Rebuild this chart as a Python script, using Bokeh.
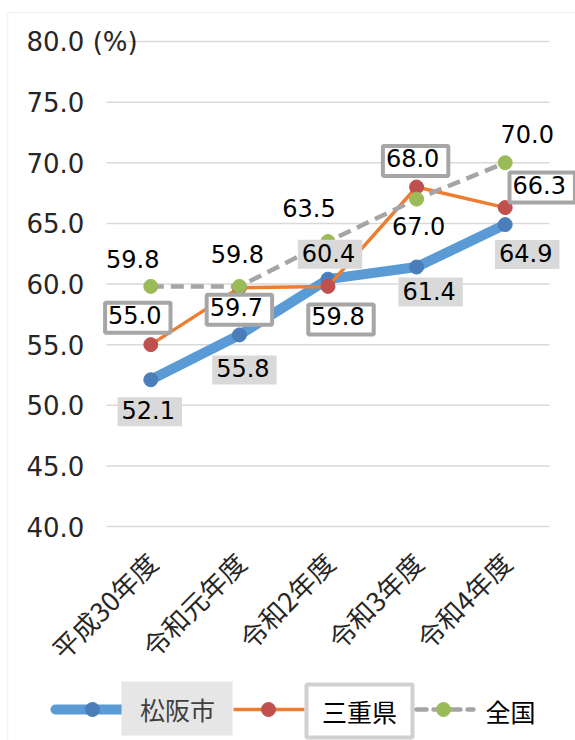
from math import pi
from bokeh.plotting import figure
from bokeh.models import Range1d, Label, BoxAnnotation
from bokeh.core.properties import value
from bokeh.embed import file_html
from bokeh.resources import INLINE

# ---- data ----
categories = ["平成30年度", "令和元年度", "令和2年度", "令和3年度", "令和4年度"]
matsusaka = [52.1, 55.8, 60.4, 61.4, 64.9]
mie = [55.0, 59.7, 59.8, 68.0, 66.3]
zenkoku = [59.8, 59.8, 63.5, 67.0, 70.0]
y_ticks = [40, 45, 50, 55, 60, 65, 70, 75, 80]
series_names = ["松阪市", "三重県", "全国"]

# ---- layout / styles ----
W, H = 575, 740
FRAME_L, FRAME_R, FRAME_T, FRAME_B = 106, 549, 41, 526   # plot area in px
FONT_CJK = "Noto Sans CJK JP"
FONT_NUM = "DejaVu Sans"
TXT = "#262626"
BLUE_L, BLUE_M = "#5b9bd5", "#4a7ebb"
ORG_L, ORG_M = "#ed7d31", "#c0504d"
GRY_L, GRN_M = "#a5a5a5", "#9bbb59"
GRID = "#d9d9d9"
# label pixel offsets (dx right, dy down)
off_blue = [(-1, 32), (5, 35), (2, -25), (14, 25), (22, 30)]
off_org = [(-13, -27), (0, 22), (13, 33), (-1, -26), (37, -20)]
off_gry = [(-18, -27), (-2, -32), (-19, -34), (2, 27), (22, -29)]

n = len(categories)
xs = list(range(n))
ymin, ymax = y_ticks[0], y_ticks[-1]
px_x = (FRAME_R - FRAME_L) / n
px_y = (FRAME_B - FRAME_T) / (ymax - ymin)
x0 = -0.5 - FRAME_L / px_x
x1 = n - 0.5 + (W - FRAME_R) / px_x
y0 = ymin - (H - FRAME_B) / px_y
y1 = ymax + FRAME_T / px_y

def X(sx):  # screen px -> data x (for decorations only)
    return x0 + sx / px_x

def Y(sy):
    return y1 - sy / px_y

p = figure(width=W, height=H, output_backend="svg", toolbar_location=None, title=None,
           x_range=Range1d(x0, x1), y_range=Range1d(y0, y1),
           x_axis_type=None, y_axis_type=None,
           min_border_left=0, min_border_right=0, min_border_top=0, min_border_bottom=0)
p.outline_line_color = None
p.grid.visible = False
p.background_fill_color = "white"
p.border_fill_color = "white"

# gridlines
p.segment(x0=[-0.5] * len(y_ticks), x1=[n - 0.5] * len(y_ticks), y0=y_ticks, y1=y_ticks,
          line_color=GRID, line_width=1.5)

# chart border
p.add_layout(BoxAnnotation(left=X(7), right=X(W + 20), top=Y(12), bottom=Y(H + 20),
                           fill_alpha=0, line_color=GRID, line_width=1.5))

# y tick labels
for t in y_ticks:
    txt = f"{t:.1f}" + (" (%)" if t == ymax else "")
    p.add_layout(Label(x=-0.5, y=t, x_offset=-80, text=txt, text_align="left",
                       text_baseline="middle", text_font=FONT_NUM, text_font_size="26px",
                       text_color=TXT))

# category labels
p.text(x=xs, y=[ymin] * n, text=categories, angle=pi / 4, text_align="right",
       text_baseline="middle", y_offset=31, x_offset=1,
       text_font=value(FONT_CJK), text_font_size="26.5px", text_color=TXT)

# series
p.line(xs, matsusaka, line_color=BLUE_L, line_width=10, line_cap="round", line_join="round")
p.scatter(xs, matsusaka, size=14, fill_color=BLUE_M, line_color=BLUE_M)
p.line(xs, mie, line_color=ORG_L, line_width=3.5)
p.scatter(xs, mie, size=14, fill_color=ORG_M, line_color=ORG_M)
p.line(xs, zenkoku, line_color=GRY_L, line_width=4.5, line_dash="13 7")
p.scatter(xs, zenkoku, size=14, fill_color=GRN_M, line_color=GRN_M)

def add_labels(vals, offs, kind):
    for x, v, (dx, dy) in zip(xs, vals, offs):
        kw = dict(x=x, y=v, x_offset=dx, y_offset=-dy, text=f"{v:.1f}",
                  text_align="center", text_baseline="middle", text_font=FONT_NUM,
                  text_font_size="24px", text_color="black")
        if kind == "blue":
            kw.update(background_fill_color="#d9d9d9", padding=(4, 7, 4, 7))
        elif kind == "org":
            kw.update(background_fill_color="white", border_line_color="#a6a6a6",
                      border_line_width=4, padding=(3, 9, 3, 9))
        p.add_layout(Label(**kw))

add_labels(matsusaka, off_blue, "blue")
add_labels(mie, off_org, "org")
add_labels(zenkoku, off_gry, "gry")

# ---- legend (drawn in screen-derived positions) ----
ly = Y(709)
p.line([X(55), X(122)], [ly, ly], line_color=BLUE_L, line_width=10, line_cap="round")
p.scatter([X(92)], [ly], size=14, fill_color=BLUE_M, line_color=BLUE_M)
p.rect([X(176.5)], [Y(708)], width=111 / px_x, height=54 / px_y,
       fill_color="#e6e6e6", line_color=None)
p.line([X(233), X(304)], [ly, ly], line_color=ORG_L, line_width=3.5)
p.scatter([X(268)], [ly], size=14, fill_color=ORG_M, line_color=ORG_M)
p.rect([X(359)], [Y(710.5)], width=106 / px_x, height=53 / px_y,
       fill_color="white", line_color="#d0d0d0", line_width=4)
p.line([X(416), X(473)], [ly, ly], line_color=GRY_L, line_width=4.5, line_dash="10 7",
       line_cap="round")
p.scatter([X(443)], [ly], size=14, fill_color=GRN_M, line_color=GRN_M)
p.text(x=[X(177), X(359), X(485)], y=[Y(708), Y(710), Y(710)], text=series_names,
       text_align=["center", "center", "left"], text_baseline="middle",
       text_font=value(FONT_CJK), text_font_size="25px",
       text_color=["#404040", "black", "black"])

open("out.html", "w").write(file_html(p, INLINE))
